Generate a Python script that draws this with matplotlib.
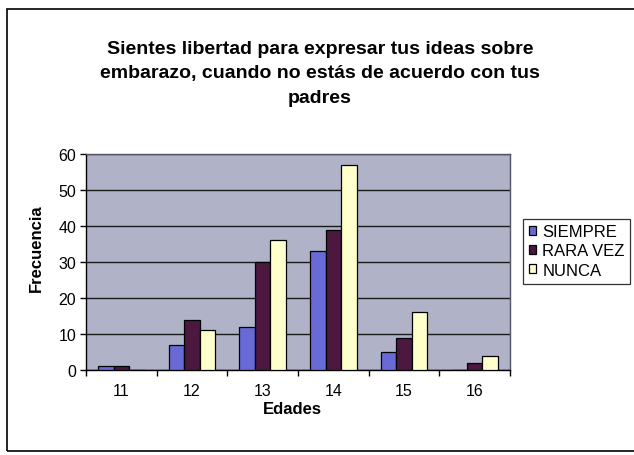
import numpy as np
import matplotlib.pyplot as plt
from matplotlib.patches import Rectangle

plt.rcParams['font.family'] = ['Liberation Sans', 'DejaVu Sans']

# Data
edades = ['11', '12', '13', '14', '15', '16']
siempre = [1, 7, 12, 33, 5, 0]
rara_vez = [1, 14, 30, 39, 9, 2]
nunca = [0, 11, 36, 57, 16, 4]
series_names = ['SIEMPRE', 'RARA VEZ', 'NUNCA']
colors = ['#6a6ad6', '#4c1840', '#ffffcc']

fig = plt.figure(figsize=(6.34, 4.56), dpi=100)
ax = fig.add_axes([86 / 634, 1 - 371 / 456, (510 - 86) / 634, (371 - 155) / 456])

x = np.arange(len(edades))
w = 0.22
for i, (vals, name, c) in enumerate(zip([siempre, rara_vez, nunca], series_names, colors)):
    ax.bar(x + (i - 1) * w, vals, width=w, color=c, edgecolor='black',
           linewidth=0.9, label=name, zorder=3)

ax.set_facecolor('#b0b2c8')
ax.set_xlim(-0.5, len(edades) - 0.5)
ax.set_ylim(0, 60)
ax.set_yticks(range(0, 61, 10))
ax.yaxis.grid(True, color='#1a1a1a', linewidth=1.0, zorder=1)
ax.set_axisbelow(True)

ax.set_xticks(x)
ax.set_xticklabels(edades)
ax.set_xticks(np.arange(-0.5, len(edades), 1), minor=True)
ax.tick_params(axis='x', which='major', length=0, pad=9, labelsize=11.5)
ax.tick_params(axis='x', which='minor', length=4, width=1, direction='out')
ax.tick_params(axis='y', length=4, width=1, direction='out', labelsize=11.5, pad=3)

for s in ['left', 'bottom']:
    ax.spines[s].set_color('black')
    ax.spines[s].set_linewidth(1.0)
for s in ['top', 'right']:
    ax.spines[s].set_color('#555566')
    ax.spines[s].set_linewidth(1.0)

ax.set_ylabel('Frecuencia', fontsize=12, fontweight='bold')
ax.yaxis.set_label_coords((44 - 86) / 424, (371 - 248) / 216)
ax.set_xlabel('Edades', fontsize=12, fontweight='bold')
ax.xaxis.set_label_coords((292 - 86) / 424, -(402 - 371) / 216)

fig.text(320 / 634, 1 - 74 / 456,
         'Sientes libertad para expresar tus ideas sobre\n'
         'embarazo, cuando no estás de acuerdo con tus\npadres',
         ha='center', va='center', fontsize=14, fontweight='bold',
         linespacing=1.6)

leg = ax.legend(loc='center left', bbox_to_anchor=(523 / 634, 1 - 252 / 456),
                bbox_transform=fig.transFigure, fontsize=12, frameon=True,
                fancybox=False, edgecolor='black', handlelength=0.45,
                handleheight=0.45, handletextpad=0.35, borderpad=0.35,
                labelspacing=0.25, borderaxespad=0)
leg.get_frame().set_linewidth(0.9)

fig.patches.append(Rectangle((7 / 634, 1 - 452 / 456), 640 / 634, 442 / 456,
                             transform=fig.transFigure, fill=False,
                             edgecolor='black', linewidth=1.2))

fig.savefig('out.png', dpi=100)
